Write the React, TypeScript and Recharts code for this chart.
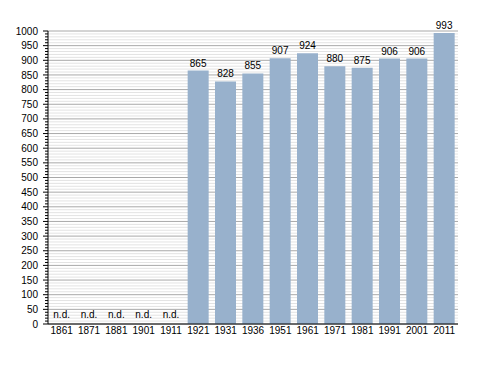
import { BarChart, Bar, XAxis, YAxis, CartesianGrid, LabelList, ReferenceDot } from 'recharts';

const years = ['1861', '1871', '1881', '1901', '1911', '1921', '1931', '1936', '1951', '1961', '1971', '1981', '1991', '2001', '2011'];
const population = [null, null, null, null, null, 865, 828, 855, 907, 924, 880, 875, 906, 906, 993];
const yTicks = Array.from({ length: 101 }, (_, i) => i * 10);

const data = years.map((year, i) => ({ year, pop: population[i] }));
const noData = years.filter((_, i) => population[i] == null);

const FONT = '"Liberation Sans", Arial, sans-serif';
const TICK_SIZE = 5;
const TICK_MARGIN = 5;

const ValueLabel = (props: any) => {
  const { x, y, width, value } = props;
  if (value == null) return null;
  return (
    <text x={x + width / 2} y={y - 4} textAnchor="middle" fontSize={10} fontFamily={FONT} fill="#000">
      {value}
    </text>
  );
};

// tick every 10, longer tick + label every 50
const YTick = (props: any) => {
  const { x, y, payload } = props;
  const v = payload.value;
  const major = v % 50 === 0;
  const axisX = x + TICK_SIZE + TICK_MARGIN;
  return (
    <g>
      <line x1={axisX - (major ? 5 : 3)} x2={axisX} y1={y} y2={y} stroke="#000" strokeWidth={1} />
      {major && (
        <text x={x} y={y} dy="0.355em" textAnchor="end" fontSize={10} fontFamily={FONT} fill="#000">
          {v}
        </text>
      )}
    </g>
  );
};

// grid line every 10, darker every 50
const GridLine = (p: any) => (
  <line
    key={p.index}
    x1={p.x1}
    x2={p.x2}
    y1={p.y1}
    y2={p.y2}
    stroke={p.index % 5 === 0 ? '#a8a8a8' : '#e3e3e3'}
    strokeWidth={1}
  />
);

export default function App() {
  return (
    <div style={{ position: 'absolute', left: 0, top: 0, background: '#fff' }}>
      <BarChart width={488} height={373} data={data} margin={{ top: 31, right: 30, bottom: 29, left: 0 }} barSize={21}>
        <CartesianGrid vertical={false} horizontal={GridLine} />
        <XAxis
          dataKey="year"
          interval={0}
          tickLine={false}
          tickSize={0}
          tickMargin={3}
          height={20}
          axisLine={{ stroke: '#000' }}
          tick={{ fontSize: 10, fontFamily: FONT, fill: '#000' }}
        />
        <YAxis
          domain={[0, 1000]}
          ticks={yTicks}
          interval={0}
          width={48}
          tickSize={TICK_SIZE}
          tickMargin={TICK_MARGIN}
          tickLine={false}
          axisLine={{ stroke: '#000' }}
          tick={<YTick />}
        />
        <Bar dataKey="pop" fill="#98b1cc" isAnimationActive={false}>
          <LabelList dataKey="pop" content={<ValueLabel />} />
        </Bar>
        {noData.map((year) => (
          <ReferenceDot
            key={year}
            x={year}
            y={0}
            r={1}
            fill="none"
            stroke="none"
            label={{ value: 'n.d.', position: 'top', offset: 5, fontSize: 10, fontFamily: FONT, fill: '#000' }}
          />
        ))}
      </BarChart>
    </div>
  );
}
